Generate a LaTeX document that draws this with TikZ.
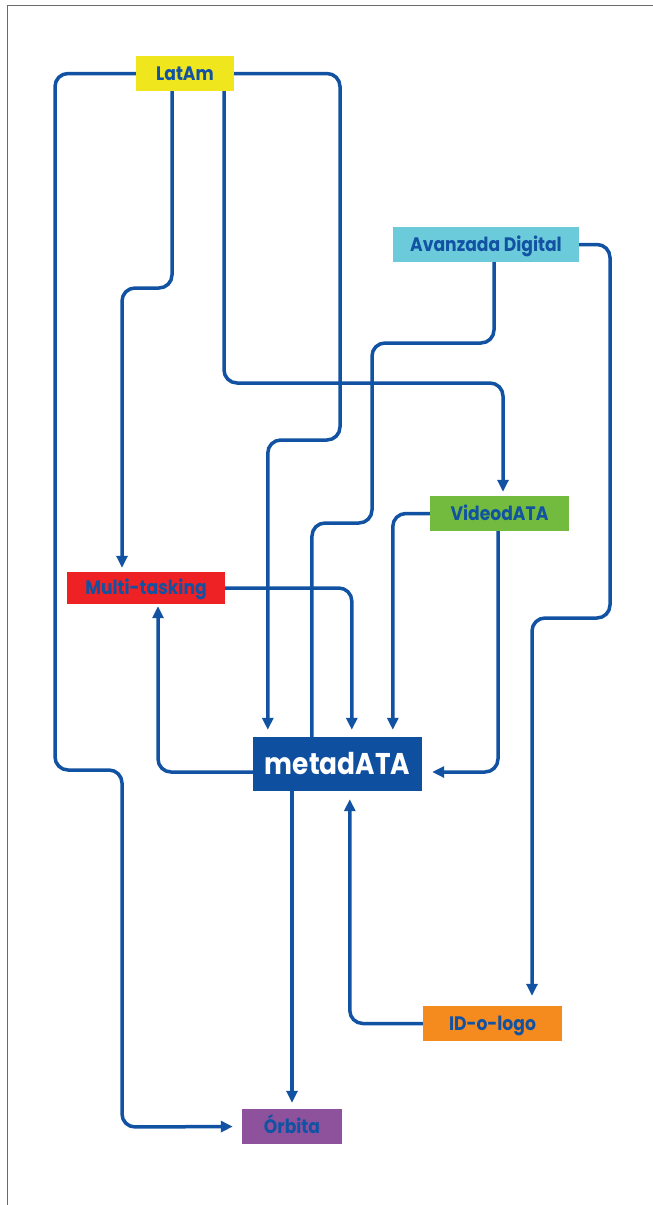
\documentclass[tikz,border=0pt]{standalone}
\usepackage{fontspec}
\setmainfont{Poppins}[FakeStretch=0.88]
\usetikzlibrary{arrows.meta,backgrounds}

\definecolor{linkblue}{HTML}{1252A3}
\definecolor{metablue}{HTML}{0E4F9F}
\definecolor{cyellow}{HTML}{F0E61E}
\definecolor{ccyan}{HTML}{6BCBDB}
\definecolor{cgreen}{HTML}{72BB3E}
\definecolor{cred}{HTML}{EE2224}
\definecolor{corange}{HTML}{F58B1F}
\definecolor{cpurple}{HTML}{8E529C}
\definecolor{framegray}{HTML}{6A6A6A}

\tikzset{
  tag/.style={inner sep=0pt, minimum height=35pt, text=linkblue,
    text height=13.5pt, text depth=0pt,
    font=\bfseries\fontsize{19.5}{22}\selectfont},
  hub/.style={inner sep=0pt, fill=metablue, text=white,
    text height=21pt, text depth=0pt,
    minimum width=169pt, minimum height=54pt,
    font=\bfseries\fontsize{30}{34}\selectfont},
  link/.style={draw=linkblue, line width=3.5pt, rounded corners=13pt},
  arr/.style={link, -{Triangle[length=12pt,width=11pt]}, shorten >=6pt},
}

\begin{document}
\begin{tikzpicture}[x=1pt, y=-1pt]
\useasboundingbox (0,0) rectangle (653,1205);

% frame
\draw[framegray, line width=1.5pt] (7.5,1206) -- (7.5,5.5) -- (654,5.5);

% bend points of the connectors
\coordinate (l1) at (55,770);
\coordinate (l2) at (122,1127);
\coordinate (r1) at (340,440);
\coordinate (m1) at (122,288);
\coordinate (v1) at (503,383);
\coordinate (a1) at (372,343);
\coordinate (a2) at (312,523);
\coordinate (a3) at (610,618);

% boxes
\node[tag, fill=cyellow, minimum width=98pt]  (latam)  at (185,73.5)   {LatAm};
\node[tag, fill=ccyan, minimum width=186pt]   (avan)   at (486,244.5)  {Avanzada Digital};
\node[tag, fill=cgreen, minimum width=139pt]  (video)  at (499.5,513.5){VideodATA};
\node[tag, fill=cred, minimum width=158pt, minimum height=32pt] (multi) at (146,588) {Multi-tasking};
\node[hub] (meta) at (337.5,764) {metadATA};
\node[tag, fill=corange, minimum width=139pt] (ido)    at (492.5,1023.5){ID-o-logo};
\node[tag, fill=cpurple, minimum width=100pt] (orbita) at (292,1126.5) {Órbita};

% connectors, behind the boxes
\begin{scope}[on background layer]
\draw[arr, shorten >=9pt] (latam.west) -| (l1) -| (l2) -- (orbita.west);
\draw[arr, shorten >=7pt] (latam.east) -| (r1) -| ([xshift=15pt]meta.north west);
\draw[arr, shorten >=4pt] ([xshift=-13pt]latam.south) |- (m1) -- ([xshift=-24pt]multi.north);
\draw[arr, shorten >=4pt] ([xshift=39pt]latam.south) |- (v1) -- ([xshift=3.5pt]video.north);
\draw[link] ([xshift=8pt]avan.south) |- (a1) |- (a2) -- ([xshift=59pt]meta.north west);
\draw[arr, shorten >=10pt] (avan.east) -| (a3) -| ([xshift=39.5pt]ido.north);
\draw[arr, shorten >=7pt] (video.west) -| ([xshift=140pt]meta.north west);
\draw[arr, shorten >=10pt] ([xshift=-1.5pt]video.south) |- ([yshift=-8pt]meta.east);
\draw[arr, shorten >=7pt] (multi.east) -| ([xshift=99pt]meta.north west);
\draw[arr, shorten >=2pt] ([yshift=-8pt]meta.west) -| ([xshift=12pt]multi.south);
\draw[arr, shorten >=6pt] ([xshift=-45.5pt]meta.south) -- (orbita.north);
\draw[arr, shorten >=8pt] (ido.west) -| ([xshift=97pt]meta.south west);
\end{scope}
\end{tikzpicture}
\end{document}
